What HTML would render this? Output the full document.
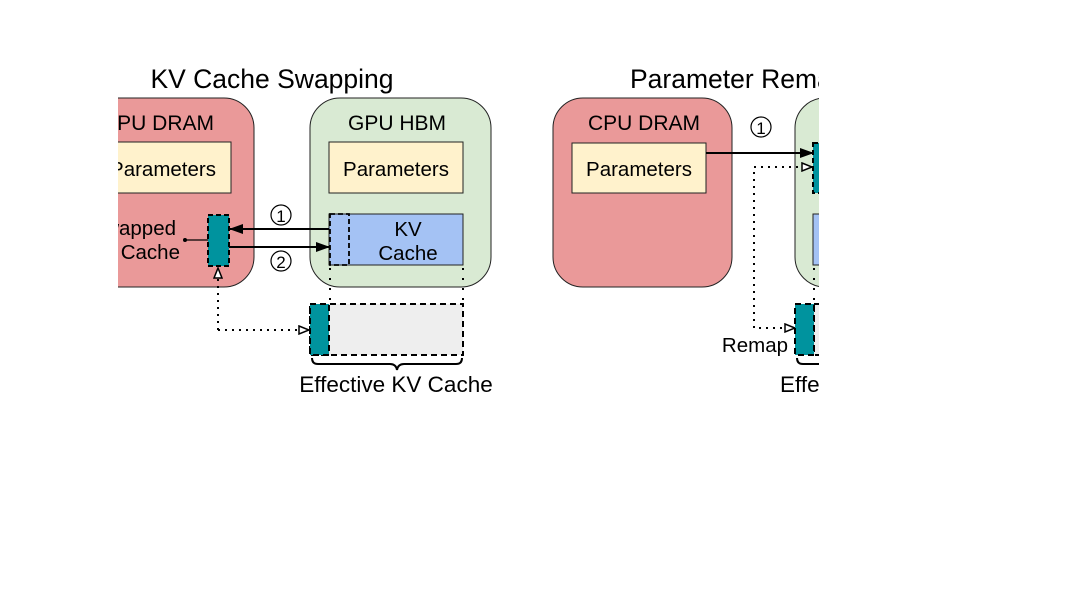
<!DOCTYPE html>
<html><head><style>
html,body{margin:0;padding:0;background:#fff;}
svg{display:block;font-family:"Liberation Sans",Arial,sans-serif;}
</style></head><body>
<svg width="1075" height="605" viewBox="0 0 1075 605">
<defs>
<clipPath id="c"><rect x="118" y="0" width="701" height="605"/></clipPath>
<marker id="fa" markerWidth="14" markerHeight="10" refX="13" refY="5" orient="auto" markerUnits="userSpaceOnUse"><path d="M0,0 L14,5 L0,10 Z" fill="#000"/></marker>
<marker id="oa" markerWidth="12" markerHeight="10" refX="11" refY="5" orient="auto" markerUnits="userSpaceOnUse"><path d="M1,1 L11,5 L1,9 Z" fill="#fff" stroke="#000" stroke-width="1.5"/></marker>
</defs>
<g clip-path="url(#c)">
<text x="272" y="88" font-size="26.5" text-anchor="middle">KV Cache Swapping</text>
<rect x="60" y="98" width="194" height="189" rx="30" fill="#ea9999" stroke="#222" stroke-width="1"/>
<text x="158" y="130" font-size="21" text-anchor="middle">CPU DRAM</text>
<rect x="90" y="142" width="141" height="51" fill="#fff2cc" stroke="#222"/>
<text x="163" y="176" font-size="20.5" text-anchor="middle">Parameters</text>
<text x="176" y="235" font-size="20.5" text-anchor="end">Swapped</text>
<text x="180" y="259" font-size="20.5" text-anchor="end">KV Cache</text>
<circle cx="185" cy="240" r="2" fill="#000"/>
<line x1="185" y1="240" x2="208" y2="240" stroke="#000" stroke-width="1.2"/>
<rect x="208" y="215" width="21" height="51" fill="#00939e" stroke="#000" stroke-width="2" stroke-dasharray="5,3"/>
<rect x="310" y="98" width="181" height="189" rx="30" fill="#d9ead3" stroke="#222"/>
<text x="397" y="130" font-size="21" text-anchor="middle">GPU HBM</text>
<rect x="329" y="142" width="134" height="51" fill="#fff2cc" stroke="#222"/>
<text x="396" y="176" font-size="20.5" text-anchor="middle">Parameters</text>
<rect x="329" y="214" width="134" height="51" fill="#a4c2f4" stroke="#222"/>
<rect x="330" y="214" width="19" height="51" fill="none" stroke="#000" stroke-width="1.8" stroke-dasharray="5,3"/>
<text x="408" y="236" font-size="20.5" text-anchor="middle">KV</text>
<text x="408" y="260" font-size="20.5" text-anchor="middle">Cache</text>
<line x1="329" y1="229" x2="230" y2="229" stroke="#000" stroke-width="2" marker-end="url(#fa)"/>
<line x1="229" y1="247" x2="329" y2="247" stroke="#000" stroke-width="2" marker-end="url(#fa)"/>
<circle cx="281" cy="215" r="10" fill="none" stroke="#000" stroke-width="1.2"/>
<text x="281" y="222" font-size="17" text-anchor="middle">1</text>
<circle cx="281" cy="261" r="10" fill="none" stroke="#000" stroke-width="1.2"/>
<text x="281" y="268" font-size="17" text-anchor="middle">2</text>
<path d="M218,330 L218,268" stroke="#000" stroke-width="2" stroke-dasharray="2,5" fill="none" marker-end="url(#oa)"/>
<path d="M218,330 L309,330" stroke="#000" stroke-width="2" stroke-dasharray="2,5" fill="none" marker-end="url(#oa)"/>
<line x1="330" y1="268" x2="330" y2="302" stroke="#000" stroke-width="2" stroke-dasharray="2,8"/>
<line x1="463" y1="268" x2="463" y2="302" stroke="#000" stroke-width="2" stroke-dasharray="2,8"/>
<rect x="310" y="304" width="153" height="51" fill="#eeeeee" stroke="#000" stroke-width="2" stroke-dasharray="6,4"/>
<rect x="310" y="304" width="19" height="51" fill="#00939e" stroke="#000" stroke-width="2" stroke-dasharray="6,4"/>
<path d="M312,358 Q312,364 318,364 L390,364 Q396,364 397,370 Q398,364 404,364 L456,364 Q462,364 462,358" stroke="#000" stroke-width="2" fill="none"/>
<text x="396" y="392" font-size="22.5" text-anchor="middle">Effective KV Cache</text>
<text x="630" y="88" font-size="26.5">Parameter Remapping</text>
<rect x="553" y="98" width="179" height="189" rx="30" fill="#ea9999" stroke="#222"/>
<text x="644" y="130" font-size="21" text-anchor="middle">CPU DRAM</text>
<rect x="572" y="143" width="134" height="50" fill="#fff2cc" stroke="#222"/>
<text x="639" y="176" font-size="20.5" text-anchor="middle">Parameters</text>
<circle cx="761" cy="127" r="10" fill="none" stroke="#000" stroke-width="1.2"/>
<text x="761" y="134" font-size="17" text-anchor="middle">1</text>
<rect x="795" y="98" width="181" height="189" rx="30" fill="#d9ead3" stroke="#222"/>
<rect x="813" y="143" width="40" height="50" fill="#00939e" stroke="#000" stroke-width="2" stroke-dasharray="5,3"/>
<rect x="813" y="214" width="134" height="51" fill="#a4c2f4" stroke="#222"/>
<line x1="706" y1="153" x2="813" y2="153" stroke="#000" stroke-width="2" marker-end="url(#fa)"/>
<path d="M812,167 L754,167 L754,328 L793,328" stroke="#000" stroke-width="2" stroke-dasharray="2,5" fill="none"/>
<path d="M790,167 L812,167" stroke="#000" stroke-width="0.01" fill="none" marker-end="url(#oa)"/>
<path d="M780,328 L795,328" stroke="#000" stroke-width="0.01" fill="none" marker-end="url(#oa)"/>
<line x1="814" y1="268" x2="814" y2="302" stroke="#000" stroke-width="2" stroke-dasharray="2,8"/>
<rect x="814" y="304" width="153" height="51" fill="#eeeeee" stroke="#000" stroke-width="2" stroke-dasharray="6,4"/>
<rect x="795" y="304" width="19" height="51" fill="#00939e" stroke="#000" stroke-width="2" stroke-dasharray="6,4"/>
<text x="788" y="352" font-size="20.5" text-anchor="end">Remap</text>
<path d="M797,358 Q797,364 803,364 L860,364" stroke="#000" stroke-width="2" fill="none"/>
<text x="780" y="392" font-size="22.5">Effective KV Cache</text>
</g>
</svg>
</body></html>
